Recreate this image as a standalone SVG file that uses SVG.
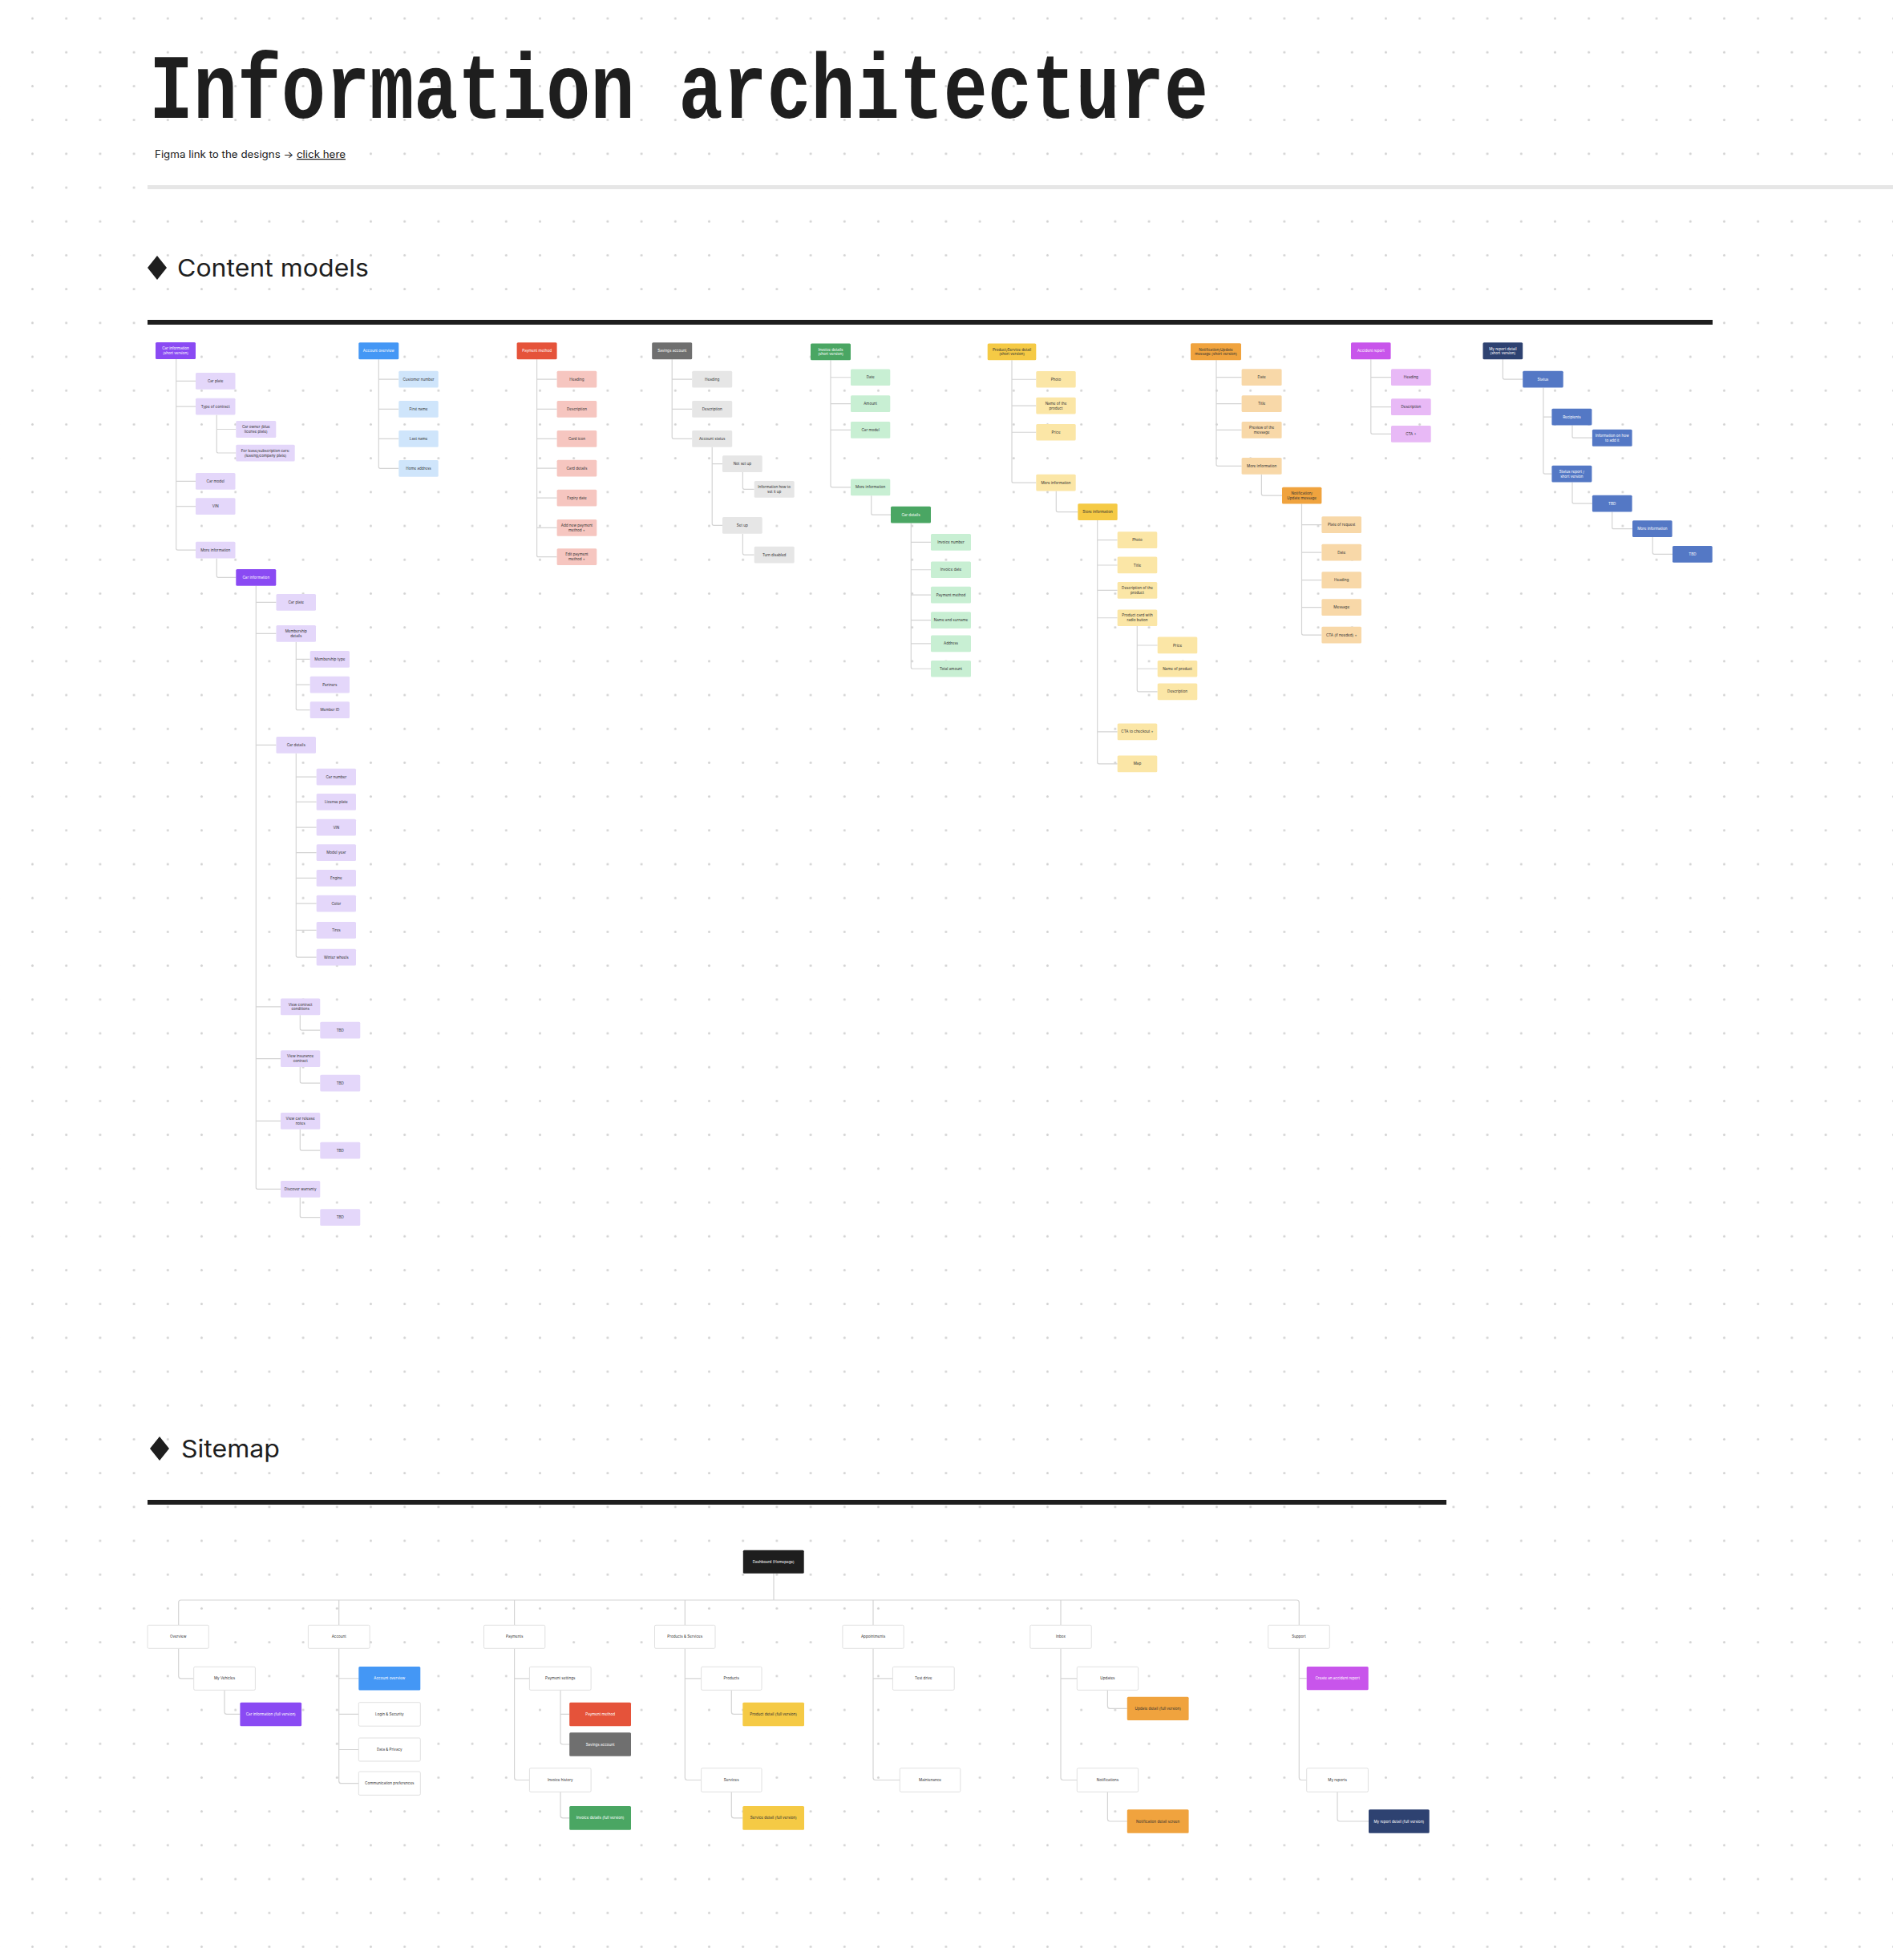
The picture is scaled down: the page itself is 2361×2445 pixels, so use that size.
<svg xmlns="http://www.w3.org/2000/svg" width="2361" height="2445" viewBox="0 0 2361 2445">
<defs>
<pattern id="dots" x="19.4" y="1.9" width="42.2" height="42.2" patternUnits="userSpaceOnUse"><circle cx="21.1" cy="21.1" r="1.5" fill="#d2d2d2"/></pattern>
<style>
.t{font-family:Inter,"Liberation Sans",sans-serif;font-size:4.6px;text-anchor:middle}
.tw{fill:#fff}.td{fill:#333}
.pd{fill:#8a4af3}.pl{fill:#e4d7fa}
.bd{fill:#4497f5}.bl{fill:#cfe5fb}
.rd{fill:#e5533a}.rl{fill:#f6c6c0}
.gd{fill:#6f6f6f}.gl{fill:#e6e6e6}
.ed{fill:#4aa663}.el{fill:#c8efd3}
.yd{fill:#f5ca45}.yl{fill:#fbe6a6}
.od{fill:#f0a33e}.ol{fill:#f8d8a8}
.md{fill:#c855eb}.ml{fill:#e8b9f6}
.nd{fill:#2e4271}.nb{fill:#5478c5}
.k{fill:#1e1e1e}
.w{fill:#fff;stroke:#e0e0e0;stroke-width:1}
.c{fill:none;stroke:#d4d4d4;stroke-width:1.2}
</style>
</defs>
<rect width="2361" height="2445" fill="#fff"/>
<rect width="2361" height="2445" fill="url(#dots)"/>

<text x="186" y="147" font-family="'Liberation Mono',monospace" font-weight="bold" font-size="115" textLength="1321" lengthAdjust="spacingAndGlyphs" fill="#1e1e1e">Information architecture</text>
<text x="193" y="197" font-family="Inter,'Liberation Sans',sans-serif" font-size="12.5" textLength="238" lengthAdjust="spacingAndGlyphs" fill="#1e1e1e">Figma link to the designs → <tspan text-decoration="underline">click here</tspan></text>
<rect x="184" y="231" width="2177" height="5" fill="#e6e6e6"/>

<polygon points="196,319 208,334 196,349 184,334" fill="#1e1e1e"/>
<text x="221" y="345" font-family="Inter,'Liberation Sans',sans-serif" font-size="30" textLength="239" lengthAdjust="spacingAndGlyphs" fill="#1e1e1e">Content models</text>
<rect x="184" y="399" width="1952" height="6" fill="#1e1e1e"/>

<polygon points="199,1792 211,1807 199,1822 187,1807" fill="#1e1e1e"/>
<text x="226" y="1818" font-family="Inter,'Liberation Sans',sans-serif" font-size="30" textLength="123" lengthAdjust="spacingAndGlyphs" fill="#1e1e1e">Sitemap</text>
<rect x="184" y="1871" width="1620" height="6" fill="#1e1e1e"/>

<g id="connectors">
<path class="c" d="M219.7,448 V684 Q219.7,686.05 221.7,686.05 H244 M219.7,475.35 H244 M219.7,507.05 H244 M219.7,600.35 H244 M219.7,631.65 H244"/>
<path class="c" d="M270.3,517.4 V563 Q270.3,565 272.3,565 H294.3 M270.3,535.5 H294.3"/>
<path class="c" d="M270.3,696.4 V718.35 Q270.3,720.35 272.3,720.35 H294.3"/>
<path class="c" d="M319.3,730.7 V1481.35 Q319.3,1483.35 321.3,1483.35 H350 M319.3,751.35 H344.5 M319.3,790.35 H344.5 M319.3,929.35 H344.5 M319.3,1255.85 H350 M319.3,1320.65 H350 M319.3,1398.35 H350"/>
<path class="c" d="M369.3,800.7 V883.65 Q369.3,885.65 371.3,885.65 H386.7 M369.3,822.35 H386.7 M369.3,854.05 H386.7"/>
<path class="c" d="M369.3,939.7 V1192.05 Q369.3,1194.05 371.3,1194.05 H394.7 M369.3,969.05 H394.7 M369.3,1000.35 H394.7 M369.3,1032.05 H394.7 M369.3,1063.65 H394.7 M369.3,1095.35 H394.7 M369.3,1127.05 H394.7 M369.3,1160.35 H394.7"/>
<path class="c" d="M374.3,1266.2 V1283.05 Q374.3,1285.05 376.3,1285.05 H399.3 M374.3,1331 V1349.05 Q374.3,1351.05 376.3,1351.05 H399.3 M374.3,1408.7 V1433.05 Q374.3,1435.05 376.3,1435.05 H399.3 M374.3,1493.7 V1516.65 Q374.3,1518.65 376.3,1518.65 H399.3"/>
<path class="c" d="M472.3,448.3 V582.35 Q472.3,584.35 474.3,584.35 H497.3 M472.3,473.05 H497.3 M472.3,510.35 H497.3 M472.3,547.35 H497.3"/>
<path class="c" d="M669.6,448.3 V692.65 Q669.6,694.65 671.6,694.65 H694.6 M669.6,473.05 H694.6 M669.6,510.35 H694.6 M669.6,547.35 H694.6 M669.6,584.05 H694.6 M669.6,621.05 H694.6 M669.6,658.35 H694.6"/>
<path class="c" d="M838.2,448.3 V545.35 Q838.2,547.35 840.2,547.35 H863.2 M838.2,473.05 H863.2 M838.2,510.35 H863.2"/>
<path class="c" d="M888.2,557.7 V653.35 Q888.2,655.35 890.2,655.35 H901 M888.2,578.65 H901"/>
<path class="c" d="M926.4,589 V608.35 Q926.4,610.35 928.4,610.35 H940.7 M926.4,665.7 V690.05 Q926.4,692.05 928.4,692.05 H940.7"/>
<path class="c" d="M1036,449.3 V605.85 Q1036,607.85 1038,607.85 H1061 M1036,470.75 H1061 M1036,503.55 H1061 M1036,536.45 H1061"/>
<path class="c" d="M1086.7,618.2 V640.15 Q1086.7,642.15 1088.7,642.15 H1111"/>
<path class="c" d="M1136.3,652.5 V832.25 Q1136.3,834.25 1138.3,834.25 H1161 M1136.3,676.45 H1161 M1136.3,710.75 H1161 M1136.3,742.15 H1161 M1136.3,773.55 H1161 M1136.3,802.85 H1161"/>
<path class="c" d="M1262,449.3 V600.15 Q1262,602.15 1264,602.15 H1292.3 M1262,473.25 H1292.3 M1262,506.05 H1292.3 M1262,539.25 H1292.3"/>
<path class="c" d="M1317.3,612.5 V636.55 Q1317.3,638.55 1319.3,638.55 H1344.3"/>
<path class="c" d="M1368.7,648.9 V950.85 Q1368.7,952.85 1370.7,952.85 H1393.7 M1368.7,673.55 H1393.7 M1368.7,705 H1393.7 M1368.7,736.45 H1393.7 M1368.7,770.75 H1393.7 M1368.7,912.85 H1393.7"/>
<path class="c" d="M1418.3,781.1 V860.85 Q1418.3,862.85 1420.3,862.85 H1443.7 M1418.3,805 H1443.7 M1418.3,834.25 H1443.7"/>
<path class="c" d="M1517,449.3 V579.35 Q1517,581.35 1519,581.35 H1548.6 M1517,470.65 H1548.6 M1517,503.65 H1548.6 M1517,536.35 H1548.6"/>
<path class="c" d="M1573.4,591.7 V616.05 Q1573.4,618.05 1575.4,618.05 H1599"/>
<path class="c" d="M1623.5,628.4 V790.05 Q1623.5,792.05 1625.5,792.05 H1648.4 M1623.5,654.65 H1648.4 M1623.5,689.05 H1648.4 M1623.5,723.65 H1648.4 M1623.5,757.65 H1648.4"/>
<path class="c" d="M1709.8,448.3 V539.35 Q1709.8,541.35 1711.8,541.35 H1735 M1709.8,470.65 H1735 M1709.8,507.65 H1735"/>
<path class="c" d="M1874.4,448.3 V471.05 Q1874.4,473.05 1876.4,473.05 H1899.2"/>
<path class="c" d="M1924.9,483.4 V589.05 Q1924.9,591.05 1926.9,591.05 H1935.4 M1924.9,520.05 H1935.4"/>
<path class="c" d="M1961,530.4 V544.2 Q1961,546.2 1963,546.2 H1985.9 M1961,601.4 V626.05 Q1961,628.05 1963,628.05 H1985.9"/>
<path class="c" d="M2010.7,638.4 V657.65 Q2010.7,659.65 2012.7,659.65 H2036 M2061.2,670 V689.35 Q2061.2,691.35 2063.2,691.35 H2086"/>

<path class="c" d="M965,1962.7 V1996"/>
<path class="c" d="M222.7,2027.3 V1999 Q222.7,1996 225.7,1996 H1617.3 Q1620.3,1996 1620.3,1999 V2027.3 M422.7,1996 V2027.3 M641.6,1996 V2027.3 M854.3,1996 V2027.3 M1089,1996 V2027.3 M1323,1996 V2027.3"/>
<path class="c" d="M222.7,2056.3 V2090.8 Q222.7,2093.8 225.7,2093.8 H241.7"/>
<path class="c" d="M280,2108.3 V2135.45 Q280,2138.45 283,2138.45 H299.4"/>
<path class="c" d="M422.7,2056.3 V2221.65 Q422.7,2224.65 425.7,2224.65 H447.3 M422.7,2093.75 H447.3 M422.7,2138.45 H447.3 M422.7,2182.5 H447.3"/>
<path class="c" d="M641.6,2056.3 V2217.5 Q641.6,2220.5 644.6,2220.5 H660.4 M641.6,2093.8 H660.4"/>
<path class="c" d="M699,2108.3 V2173 Q699,2176 702,2176 H710.2 M699,2138.45 H710.2 M699,2235.3 V2264.85 Q699,2267.85 702,2267.85 H710.2"/>
<path class="c" d="M854.3,2056.3 V2217.5 Q854.3,2220.5 857.3,2220.5 H874.6 M854.3,2093.8 H874.6"/>
<path class="c" d="M912.3,2108.3 V2135.45 Q912.3,2138.45 915.3,2138.45 H926.3 M912.3,2235.3 V2264.85 Q912.3,2267.85 915.3,2267.85 H926.3"/>
<path class="c" d="M1089,2056.3 V2217.5 Q1089,2220.5 1092,2220.5 H1122.3 M1089,2093.8 H1113.4"/>
<path class="c" d="M1323,2056.3 V2217.5 Q1323,2220.5 1326,2220.5 H1343.3 M1323,2093.8 H1343.3"/>
<path class="c" d="M1381.4,2108.3 V2128.35 Q1381.4,2131.35 1384.4,2131.35 H1405.8 M1381.4,2235.3 V2269 Q1381.4,2272 1384.4,2272 H1405.8"/>
<path class="c" d="M1620.3,2056.3 V2217.5 Q1620.3,2220.5 1623.3,2220.5 H1629.7 M1620.3,2093.65 H1629.7"/>
<path class="c" d="M1668,2235.3 V2269 Q1668,2272 1671,2272 H1707"/>
</g>

<!-- Column A: Car information -->
<g id="a0"><rect class="pd" x="194" y="427" width="50" height="21" rx="1.5"/><text class="t tw" x="219" y="436.2">Car information<tspan x="219" dy="5.8">(short version)</tspan></text></g>
<g id="a1"><rect class="pl" x="244" y="465" width="49.5" height="20.7" rx="1.5"/><text class="t td" x="268.75" y="476.95">Car plate</text></g>
<g id="a2"><rect class="pl" x="244" y="496.7" width="49.5" height="20.7" rx="1.5"/><text class="t td" x="268.75" y="508.65">Type of contract</text></g>
<g id="a3"><rect class="pl" x="294.3" y="525" width="50" height="21" rx="1.5"/><text class="t td" x="319.3" y="534.2">Car owner (blue<tspan x="319.3" dy="5.8">license plate)</tspan></text></g>
<g id="a4"><rect class="pl" x="294.3" y="554.7" width="73.4" height="20.7" rx="1.5"/><text class="t td" x="331" y="563.7">For lease/subscription cars:<tspan x="331" dy="5.8">(leasing/company plate)</tspan></text></g>
<g id="a5"><rect class="pl" x="244" y="590" width="49.5" height="20.7" rx="1.5"/><text class="t td" x="268.75" y="601.95">Car model</text></g>
<g id="a6"><rect class="pl" x="244" y="621.3" width="49.5" height="20.7" rx="1.5"/><text class="t td" x="268.75" y="633.25">VIN</text></g>
<g id="a7"><rect class="pl" x="244" y="675.7" width="49.5" height="20.7" rx="1.5"/><text class="t td" x="268.75" y="687.65">More information</text></g>
<g id="a8"><rect class="pd" x="294.3" y="710" width="50" height="20.7" rx="1.5"/><text class="t tw" x="319.3" y="721.95">Car information</text></g>
<g id="a9"><rect class="pl" x="344.5" y="741" width="49.5" height="20.7" rx="1.5"/><text class="t td" x="369.25" y="752.95">Car plate</text></g>
<g id="a10"><rect class="pl" x="344.5" y="780" width="49.5" height="20.7" rx="1.5"/><text class="t td" x="369.25" y="789.05">Membership<tspan x="369.25" dy="5.8">details</tspan></text></g>
<g id="a11"><rect class="pl" x="386.7" y="812" width="49.3" height="20.7" rx="1.5"/><text class="t td" x="411.35" y="823.95">Membership type</text></g>
<g id="a12"><rect class="pl" x="386.7" y="843.7" width="49.3" height="20.7" rx="1.5"/><text class="t td" x="411.35" y="855.65">Partners</text></g>
<g id="a13"><rect class="pl" x="386.7" y="875.3" width="49.3" height="20.7" rx="1.5"/><text class="t td" x="411.35" y="887.25">Member ID</text></g>
<g id="a14"><rect class="pl" x="344.5" y="919" width="49.5" height="20.7" rx="1.5"/><text class="t td" x="369.25" y="930.95">Car details</text></g>
<g id="a15"><rect class="pl" x="394.7" y="958.7" width="49.3" height="20.7" rx="1.5"/><text class="t td" x="419.35" y="970.65">Car number</text></g>
<g id="a16"><rect class="pl" x="394.7" y="990" width="49.3" height="20.7" rx="1.5"/><text class="t td" x="419.35" y="1001.95">License plate</text></g>
<g id="a17"><rect class="pl" x="394.7" y="1021.7" width="49.3" height="20.7" rx="1.5"/><text class="t td" x="419.35" y="1033.65">VIN</text></g>
<g id="a18"><rect class="pl" x="394.7" y="1053.3" width="49.3" height="20.7" rx="1.5"/><text class="t td" x="419.35" y="1065.25">Model year</text></g>
<g id="a19"><rect class="pl" x="394.7" y="1085" width="49.3" height="20.7" rx="1.5"/><text class="t td" x="419.35" y="1096.95">Engine</text></g>
<g id="a20"><rect class="pl" x="394.7" y="1116.7" width="49.3" height="20.7" rx="1.5"/><text class="t td" x="419.35" y="1128.65">Color</text></g>
<g id="a21"><rect class="pl" x="394.7" y="1150" width="49.3" height="20.7" rx="1.5"/><text class="t td" x="419.35" y="1161.95">Tires</text></g>
<g id="a22"><rect class="pl" x="394.7" y="1183.7" width="49.3" height="20.7" rx="1.5"/><text class="t td" x="419.35" y="1195.65">Winter wheels</text></g>
<g id="a23"><rect class="pl" x="350" y="1245.5" width="49.3" height="20.7" rx="1.5"/><text class="t td" x="374.65" y="1254.55">View contract<tspan x="374.65" dy="5.8">conditions</tspan></text></g>
<g id="a24"><rect class="pl" x="399.3" y="1274.7" width="50" height="20.7" rx="1.5"/><text class="t td" x="424.3" y="1286.65">TBD</text></g>
<g id="a25"><rect class="pl" x="350" y="1310.3" width="49.3" height="20.7" rx="1.5"/><text class="t td" x="374.65" y="1319.35">View insurance<tspan x="374.65" dy="5.8">contract</tspan></text></g>
<g id="a26"><rect class="pl" x="399.3" y="1340.7" width="50" height="20.7" rx="1.5"/><text class="t td" x="424.3" y="1352.65">TBD</text></g>
<g id="a27"><rect class="pl" x="350" y="1388" width="49.3" height="20.7" rx="1.5"/><text class="t td" x="374.65" y="1397.05">View car release<tspan x="374.65" dy="5.8">notes</tspan></text></g>
<g id="a28"><rect class="pl" x="399.3" y="1424.7" width="50" height="20.7" rx="1.5"/><text class="t td" x="424.3" y="1436.65">TBD</text></g>
<g id="a29"><rect class="pl" x="350" y="1473" width="49.3" height="20.7" rx="1.5"/><text class="t td" x="374.65" y="1484.95">Discover warranty</text></g>
<g id="a30"><rect class="pl" x="399.3" y="1508.3" width="50" height="20.7" rx="1.5"/><text class="t td" x="424.3" y="1520.25">TBD</text></g>

<!-- Column B -->
<g id="b0"><rect class="bd" x="447.3" y="427.3" width="50" height="21" rx="1.5"/><text class="t tw" x="472.3" y="439.4">Account overview</text></g>
<g id="b1"><rect class="bl" x="497.3" y="462.7" width="49.4" height="20.7" rx="1.5"/><text class="t td" x="522" y="474.65">Customer number</text></g>
<g id="b2"><rect class="bl" x="497.3" y="500" width="49.4" height="20.7" rx="1.5"/><text class="t td" x="522" y="511.95">First name</text></g>
<g id="b3"><rect class="bl" x="497.3" y="537" width="49.4" height="20.7" rx="1.5"/><text class="t td" x="522" y="548.95">Last name</text></g>
<g id="b4"><rect class="bl" x="497.3" y="574" width="49.4" height="20.7" rx="1.5"/><text class="t td" x="522" y="585.95">Home address</text></g>

<!-- Column C -->
<g id="c0"><rect class="rd" x="644.6" y="427.3" width="50" height="21" rx="1.5"/><text class="t tw" x="669.6" y="439.4">Payment method</text></g>
<g id="c1"><rect class="rl" x="694.6" y="462.7" width="49.7" height="20.7" rx="1.5"/><text class="t td" x="719.45" y="474.65">Heading</text></g>
<g id="c2"><rect class="rl" x="694.6" y="500" width="49.7" height="20.7" rx="1.5"/><text class="t td" x="719.45" y="511.95">Description</text></g>
<g id="c3"><rect class="rl" x="694.6" y="537" width="49.7" height="20.7" rx="1.5"/><text class="t td" x="719.45" y="548.95">Card icon</text></g>
<g id="c4"><rect class="rl" x="694.6" y="573.7" width="49.7" height="20.7" rx="1.5"/><text class="t td" x="719.45" y="585.65">Card details</text></g>
<g id="c5"><rect class="rl" x="694.6" y="610.7" width="49.7" height="20.7" rx="1.5"/><text class="t td" x="719.45" y="622.65">Expiry date</text></g>
<g id="c6"><rect class="rl" x="694.6" y="648" width="49.7" height="20.7" rx="1.5"/><text class="t td" x="719.45" y="657.05">Add new payment<tspan x="719.45" dy="5.8">method +</tspan></text></g>
<g id="c7"><rect class="rl" x="694.6" y="684.3" width="49.7" height="20.7" rx="1.5"/><text class="t td" x="719.45" y="693.35">Edit payment<tspan x="719.45" dy="5.8">method +</tspan></text></g>

<!-- Column D -->
<g id="d0"><rect class="gd" x="813.2" y="427.3" width="50" height="21" rx="1.5"/><text class="t tw" x="838.2" y="439.4">Savings account</text></g>
<g id="d1"><rect class="gl" x="863.2" y="462.7" width="50" height="20.7" rx="1.5"/><text class="t td" x="888.2" y="474.65">Heading</text></g>
<g id="d2"><rect class="gl" x="863.2" y="500" width="50" height="20.7" rx="1.5"/><text class="t td" x="888.2" y="511.95">Description</text></g>
<g id="d3"><rect class="gl" x="863.2" y="537" width="50" height="20.7" rx="1.5"/><text class="t td" x="888.2" y="548.95">Account status</text></g>
<g id="d4"><rect class="gl" x="901" y="568.3" width="49.7" height="20.7" rx="1.5"/><text class="t td" x="925.85" y="580.25">Not set up</text></g>
<g id="d5"><rect class="gl" x="901" y="645" width="49.7" height="20.7" rx="1.5"/><text class="t td" x="925.85" y="656.95">Set up</text></g>
<g id="d6"><rect class="gl" x="940.7" y="600" width="50" height="20.7" rx="1.5"/><text class="t td" x="965.7" y="609.05">Information how to<tspan x="965.7" dy="5.8">set it up</tspan></text></g>
<g id="d7"><rect class="gl" x="940.7" y="681.7" width="50" height="20.7" rx="1.5"/><text class="t td" x="965.7" y="693.65">Turn disabled</text></g>

<!-- Column E -->
<g id="e0"><rect class="ed" x="1011" y="428.6" width="50" height="20.7" rx="1.5"/><text class="t tw" x="1036" y="437.65">Invoice details<tspan x="1036" dy="5.8">(short version)</tspan></text></g>
<g id="e1"><rect class="el" x="1061" y="460.4" width="49.3" height="20.7" rx="1.5"/><text class="t td" x="1085.65" y="472.35">Date</text></g>
<g id="e2"><rect class="el" x="1061" y="493.2" width="49.3" height="20.7" rx="1.5"/><text class="t td" x="1085.65" y="505.15">Amount</text></g>
<g id="e3"><rect class="el" x="1061" y="526.1" width="49.3" height="20.7" rx="1.5"/><text class="t td" x="1085.65" y="538.05">Car model</text></g>
<g id="e4"><rect class="el" x="1061" y="597.5" width="49.3" height="20.7" rx="1.5"/><text class="t td" x="1085.65" y="609.45">More information</text></g>
<g id="e5"><rect class="ed" x="1111" y="631.8" width="50" height="20.7" rx="1.5"/><text class="t tw" x="1136" y="643.75">Car details</text></g>
<g id="e6"><rect class="el" x="1161" y="666.1" width="50" height="20.7" rx="1.5"/><text class="t td" x="1186" y="678.05">Invoice number</text></g>
<g id="e7"><rect class="el" x="1161" y="700.4" width="50" height="20.7" rx="1.5"/><text class="t td" x="1186" y="712.35">Invoice date</text></g>
<g id="e8"><rect class="el" x="1161" y="731.8" width="50" height="20.7" rx="1.5"/><text class="t td" x="1186" y="743.75">Payment method</text></g>
<g id="e9"><rect class="el" x="1161" y="763.2" width="50" height="20.7" rx="1.5"/><text class="t td" x="1186" y="775.15">Name and surname</text></g>
<g id="e10"><rect class="el" x="1161" y="792.5" width="50" height="20.7" rx="1.5"/><text class="t td" x="1186" y="804.45">Address</text></g>
<g id="e11"><rect class="el" x="1161" y="823.9" width="50" height="20.7" rx="1.5"/><text class="t td" x="1186" y="835.85">Total amount</text></g>

<!-- Column F -->
<g id="f0"><rect class="yd" x="1231.7" y="428.6" width="60.6" height="20.7" rx="1.5"/><text class="t td" x="1262" y="437.65">Product/Service detail<tspan x="1262" dy="5.8">(short version)</tspan></text></g>
<g id="f1"><rect class="yl" x="1292.3" y="462.9" width="49.4" height="20.7" rx="1.5"/><text class="t td" x="1317" y="474.85">Photo</text></g>
<g id="f2"><rect class="yl" x="1292.3" y="495.7" width="49.4" height="20.7" rx="1.5"/><text class="t td" x="1317" y="504.75">Name of the<tspan x="1317" dy="5.8">product</tspan></text></g>
<g id="f3"><rect class="yl" x="1292.3" y="528.9" width="49.4" height="20.7" rx="1.5"/><text class="t td" x="1317" y="540.85">Price</text></g>
<g id="f4"><rect class="yl" x="1292.3" y="591.8" width="49.4" height="20.7" rx="1.5"/><text class="t td" x="1317" y="603.75">More information</text></g>
<g id="f5"><rect class="yd" x="1344.3" y="628.2" width="49.4" height="20.7" rx="1.5"/><text class="t td" x="1369" y="640.15">Store information</text></g>
<g id="f6"><rect class="yl" x="1393.7" y="663.2" width="49.6" height="20.7" rx="1.5"/><text class="t td" x="1418.5" y="675.15">Photo</text></g>
<g id="f7"><rect class="yl" x="1393.7" y="694.6" width="49.6" height="20.7" rx="1.5"/><text class="t td" x="1418.5" y="706.55">Title</text></g>
<g id="f8"><rect class="yl" x="1393.7" y="726.1" width="49.6" height="20.7" rx="1.5"/><text class="t td" x="1418.5" y="735.15">Description of the<tspan x="1418.5" dy="5.8">product</tspan></text></g>
<g id="f9"><rect class="yl" x="1393.7" y="760.4" width="49.6" height="20.7" rx="1.5"/><text class="t td" x="1418.5" y="769.45">Product card with<tspan x="1418.5" dy="5.8">radio button</tspan></text></g>
<g id="f10"><rect class="yl" x="1393.7" y="902.5" width="49.6" height="20.7" rx="1.5"/><text class="t td" x="1418.5" y="914.45">CTA to checkout +</text></g>
<g id="f11"><rect class="yl" x="1393.7" y="942.5" width="49.6" height="20.7" rx="1.5"/><text class="t td" x="1418.5" y="954.45">Map</text></g>
<g id="f12"><rect class="yl" x="1443.7" y="794.6" width="49.6" height="20.7" rx="1.5"/><text class="t td" x="1468.5" y="806.55">Price</text></g>
<g id="f13"><rect class="yl" x="1443.7" y="823.9" width="49.6" height="20.7" rx="1.5"/><text class="t td" x="1468.5" y="835.85">Name of product</text></g>
<g id="f14"><rect class="yl" x="1443.7" y="852.5" width="49.6" height="20.7" rx="1.5"/><text class="t td" x="1468.5" y="864.45">Description</text></g>

<!-- Column G -->
<g id="g0"><rect class="od" x="1485" y="428.3" width="63" height="21" rx="1.5"/><text class="t td" x="1516.5" y="437.5">Notification/Update<tspan x="1516.5" dy="5.8">message (short version)</tspan></text></g>
<g id="g1"><rect class="ol" x="1548.6" y="460.3" width="50" height="20.7" rx="1.5"/><text class="t td" x="1573.6" y="472.25">Date</text></g>
<g id="g2"><rect class="ol" x="1548.6" y="493.3" width="50" height="20.7" rx="1.5"/><text class="t td" x="1573.6" y="505.25">Title</text></g>
<g id="g3"><rect class="ol" x="1548.6" y="526" width="50" height="20.7" rx="1.5"/><text class="t td" x="1573.6" y="535.05">Preview of the<tspan x="1573.6" dy="5.8">message</tspan></text></g>
<g id="g4"><rect class="ol" x="1548.6" y="571" width="50" height="20.7" rx="1.5"/><text class="t td" x="1573.6" y="582.95">More information</text></g>
<g id="g5"><rect class="od" x="1599" y="607.7" width="49.4" height="20.7" rx="1.5"/><text class="t td" x="1623.7" y="616.75">Notification/<tspan x="1623.7" dy="5.8">Update message</tspan></text></g>
<g id="g6"><rect class="ol" x="1648.4" y="644.3" width="49.6" height="20.7" rx="1.5"/><text class="t td" x="1673.2" y="656.25">Plate of request</text></g>
<g id="g7"><rect class="ol" x="1648.4" y="678.7" width="49.6" height="20.7" rx="1.5"/><text class="t td" x="1673.2" y="690.65">Date</text></g>
<g id="g8"><rect class="ol" x="1648.4" y="713.3" width="49.6" height="20.7" rx="1.5"/><text class="t td" x="1673.2" y="725.25">Heading</text></g>
<g id="g9"><rect class="ol" x="1648.4" y="747.3" width="49.6" height="20.7" rx="1.5"/><text class="t td" x="1673.2" y="759.25">Message</text></g>
<g id="g10"><rect class="ol" x="1648.4" y="781.7" width="49.6" height="20.7" rx="1.5"/><text class="t td" x="1673.2" y="793.65">CTA (if needed) +</text></g>

<!-- Column H -->
<g id="h0"><rect class="md" x="1685" y="427.3" width="49.6" height="21" rx="1.5"/><text class="t tw" x="1709.8" y="439.4">Accident report</text></g>
<g id="h1"><rect class="ml" x="1735" y="460.3" width="49.7" height="20.7" rx="1.5"/><text class="t td" x="1759.85" y="472.25">Heading</text></g>
<g id="h2"><rect class="ml" x="1735" y="497.3" width="49.7" height="20.7" rx="1.5"/><text class="t td" x="1759.85" y="509.25">Description</text></g>
<g id="h3"><rect class="ml" x="1735" y="531" width="49.7" height="20.7" rx="1.5"/><text class="t td" x="1759.85" y="542.95">CTA +</text></g>

<!-- Column I -->
<g id="i0"><rect class="nd" x="1849.5" y="427.3" width="49.7" height="21" rx="1.5"/><text class="t tw" x="1874.35" y="436.5">My report detail<tspan x="1874.35" dy="5.8">(short version)</tspan></text></g>
<g id="i1"><rect class="nb" x="1899.2" y="462.7" width="50.5" height="20.7" rx="1.5"/><text class="t tw" x="1924.45" y="474.65">Status</text></g>
<g id="i2"><rect class="nb" x="1935.4" y="509.7" width="50" height="20.7" rx="1.5"/><text class="t tw" x="1960.4" y="521.65">Recipients</text></g>
<g id="i3"><rect class="nb" x="1985.9" y="535.7" width="49.7" height="21" rx="1.5"/><text class="t tw" x="2010.75" y="544.9">Information on how<tspan x="2010.75" dy="5.8">to add it</tspan></text></g>
<g id="i4"><rect class="nb" x="1935.4" y="580.7" width="50" height="20.7" rx="1.5"/><text class="t tw" x="1960.4" y="589.75">Status report /<tspan x="1960.4" dy="5.8">short version</tspan></text></g>
<g id="i5"><rect class="nb" x="1985.9" y="617.7" width="49.7" height="20.7" rx="1.5"/><text class="t tw" x="2010.75" y="629.65">TBD</text></g>
<g id="i6"><rect class="nb" x="2036" y="649.3" width="49.6" height="20.7" rx="1.5"/><text class="t tw" x="2060.8" y="661.25">More information</text></g>
<g id="i7"><rect class="nb" x="2086" y="681" width="49.7" height="20.7" rx="1.5"/><text class="t tw" x="2110.85" y="692.95">TBD</text></g>

<!-- Sitemap -->
<g id="s-root"><rect class="k" x="926.8" y="1933.7" width="75.9" height="29" rx="1.5"/><text class="t tw" x="964.75" y="1949.8">Dashboard (Homepage)</text></g>
<g id="s-overview"><rect class="w" x="184" y="2027.3" width="76.3" height="29" rx="1.5"/><text class="t td" x="222.15" y="2043.4">Overview</text></g>
<g id="s-account"><rect class="w" x="384.4" y="2027.3" width="76.7" height="29" rx="1.5"/><text class="t td" x="422.75" y="2043.4">Account</text></g>
<g id="s-payments"><rect class="w" x="603.5" y="2027.3" width="76.3" height="29" rx="1.5"/><text class="t td" x="641.65" y="2043.4">Payments</text></g>
<g id="s-products"><rect class="w" x="816.5" y="2027.3" width="75.5" height="29" rx="1.5"/><text class="t td" x="854.25" y="2043.4">Products &amp; Services</text></g>
<g id="s-appointments"><rect class="w" x="1050.9" y="2027.3" width="76.3" height="29" rx="1.5"/><text class="t td" x="1089.05" y="2043.4">Appointments</text></g>
<g id="s-inbox"><rect class="w" x="1284.8" y="2027.3" width="76.4" height="29" rx="1.5"/><text class="t td" x="1323" y="2043.4">Inbox</text></g>
<g id="s-support"><rect class="w" x="1581.7" y="2027.3" width="76.6" height="29" rx="1.5"/><text class="t td" x="1620" y="2043.4">Support</text></g>

<g id="s-vehicles"><rect class="w" x="241.7" y="2079.3" width="76.7" height="29" rx="1.5"/><text class="t td" x="280.05" y="2095.4">My Vehicles</text></g>
<g id="s-carinfo"><rect class="pd" x="299.4" y="2123.7" width="76.7" height="29.5" rx="1.5"/><text class="t tw" x="337.75" y="2140.05">Car information (full version)</text></g>
<g id="s-accov"><rect class="bd" x="447.3" y="2079" width="77" height="29.5" rx="1.5"/><text class="t tw" x="485.8" y="2095.35">Account overview</text></g>
<g id="s-login"><rect class="w" x="447.3" y="2123.7" width="77" height="29.5" rx="1.5"/><text class="t td" x="485.8" y="2140.05">Login &amp; Security</text></g>
<g id="s-privacy"><rect class="w" x="447.3" y="2168" width="77" height="29" rx="1.5"/><text class="t td" x="485.8" y="2184.1">Data &amp; Privacy</text></g>
<g id="s-comm"><rect class="w" x="447.3" y="2210" width="77" height="29.3" rx="1.5"/><text class="t td" x="485.8" y="2226.25">Communication preferences</text></g>
<g id="s-paysettings"><rect class="w" x="660.4" y="2079.3" width="76.7" height="29" rx="1.5"/><text class="t td" x="698.75" y="2095.4">Payment settings</text></g>
<g id="s-paymethod"><rect class="rd" x="710.2" y="2123.7" width="76.8" height="29.5" rx="1.5"/><text class="t tw" x="748.6" y="2140.05">Payment method</text></g>
<g id="s-savings"><rect class="gd" x="710.2" y="2161.3" width="76.8" height="29.4" rx="1.5"/><text class="t tw" x="748.6" y="2177.6">Savings account</text></g>
<g id="s-invhist"><rect class="w" x="660.4" y="2205.7" width="76.7" height="29.6" rx="1.5"/><text class="t td" x="698.75" y="2222.1">Invoice history</text></g>
<g id="s-invdetail"><rect class="ed" x="710.2" y="2253" width="76.8" height="29.7" rx="1.5"/><text class="t tw" x="748.6" y="2269.45">Invoice details (full version)</text></g>
<g id="s-prods"><rect class="w" x="874.6" y="2079.3" width="75.4" height="29" rx="1.5"/><text class="t td" x="912.3" y="2095.4">Products</text></g>
<g id="s-proddetail"><rect class="yd" x="926.3" y="2123.7" width="76.7" height="29.5" rx="1.5"/><text class="t td" x="964.65" y="2140.05">Product detail (full version)</text></g>
<g id="s-services"><rect class="w" x="874.6" y="2205.7" width="75.4" height="29.6" rx="1.5"/><text class="t td" x="912.3" y="2222.1">Services</text></g>
<g id="s-servdetail"><rect class="yd" x="926.3" y="2253" width="76.7" height="29.7" rx="1.5"/><text class="t td" x="964.65" y="2269.45">Service detail (full version)</text></g>
<g id="s-testdrive"><rect class="w" x="1113.4" y="2079.3" width="76.8" height="29" rx="1.5"/><text class="t td" x="1151.8" y="2095.4">Test drive</text></g>
<g id="s-maint"><rect class="w" x="1122.3" y="2205.7" width="75.5" height="29.6" rx="1.5"/><text class="t td" x="1160.05" y="2222.1">Maintenance</text></g>
<g id="s-updates"><rect class="w" x="1343.3" y="2079.3" width="76.3" height="29" rx="1.5"/><text class="t td" x="1381.45" y="2095.4">Updates</text></g>
<g id="s-upddetail"><rect class="od" x="1405.8" y="2116.7" width="76.8" height="29.3" rx="1.5"/><text class="t td" x="1444.2" y="2132.95">Update detail (full version)</text></g>
<g id="s-notif"><rect class="w" x="1343.3" y="2205.7" width="76.3" height="29.6" rx="1.5"/><text class="t td" x="1381.45" y="2222.1">Notifications</text></g>
<g id="s-notifdetail"><rect class="od" x="1405.8" y="2257.3" width="76.8" height="29.4" rx="1.5"/><text class="t td" x="1444.2" y="2273.6">Notification detail screen</text></g>
<g id="s-create"><rect class="md" x="1629.7" y="2079" width="77" height="29.3" rx="1.5"/><text class="t tw" x="1668.2" y="2095.25">Create an accident report</text></g>
<g id="s-myreports"><rect class="w" x="1629.7" y="2205.7" width="76.7" height="29.6" rx="1.5"/><text class="t td" x="1668.05" y="2222.1">My reports</text></g>
<g id="s-reportdetail"><rect class="nd" x="1707" y="2257.3" width="75.7" height="29.4" rx="1.5"/><text class="t tw" x="1744.85" y="2273.6">My report detail (full version)</text></g>
</svg>
